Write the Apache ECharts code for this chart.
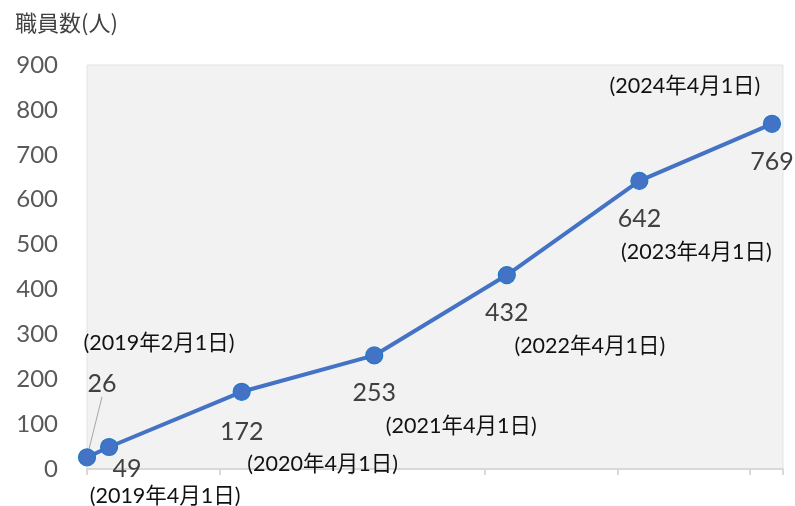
<!DOCTYPE html>
<html>
<head>
<meta charset="utf-8">
<script src="https://cdn.jsdelivr.net/npm/echarts@6/dist/echarts.min.js"></script>
<style>
html,body{margin:0;padding:0;background:#fff;}
#chart{width:795px;height:506px;}
</style>
</head>
<body>
<div id="chart"></div>
<script>
// ---- data ----
const dates = ['2019-02-01','2019-04-01','2020-04-01','2021-04-01','2022-04-01','2023-04-01','2024-04-01'];
const dateLabels = ['(2019年2月1日)','(2019年4月1日)','(2020年4月1日)','(2021年4月1日)','(2022年4月1日)','(2023年4月1日)','(2024年4月1日)'];
const staff = [26, 49, 172, 253, 432, 642, 769];
const yTicks = [0, 100, 200, 300, 400, 500, 600, 700, 800, 900];
const axisStart = '2019-02-01';
const axisEnd = '2024-05-01';
const yTitle = '職員数(人)';

// ---- styles (label placement) ----
const valueOffsets = [[15,-73],[18,22],[0,40],[0,38],[0,38],[0,38],[0,38]];
const dateOffsets = [[72,-114],[56,49],[81,72],[87,71],[83,71],[57,71],[-87,-38]];

function monthIndex(d){
  const p = d.split('-').map(Number);
  const s = axisStart.split('-').map(Number);
  return (p[0]-s[0])*12 + (p[1]-s[1]) + (p[2]-s[2])/30;
}
const xs = dates.map(monthIndex);
const xMax = monthIndex(axisEnd);

const font = 'Lato, "Noto Sans CJK JP", sans-serif';

const valueData = staff.map((v,i)=>({
  value:[xs[i], v],
  labelLine:{show: i===0}
}));
const dateData = staff.map((v,i)=>({
  value:[xs[i], v],
  label:{formatter: dateLabels[i]}
}));

const chart = echarts.init(document.getElementById('chart'), null, {renderer:'canvas'});
chart.setOption({
  animation:false,
  backgroundColor:'#ffffff',
  title:{
    text: yTitle, left: 10, top: 7,
    textStyle:{fontFamily:'"Noto Sans CJK JP", sans-serif', fontSize:22, fontWeight:'normal', color:'#404040'}
  },
  grid:{left:87, right:12, top:65, bottom:37, show:true, backgroundColor:'#F2F2F2', borderColor:'#E3E3E3', borderWidth:1},
  xAxis:{
    type:'value', min:0, max:xMax, interval:12,
    axisLabel:{show:false},
    axisLine:{show:true, lineStyle:{color:'#D9D9D9', width:2}},
    axisTick:{show:true, length:6, lineStyle:{color:'#D9D9D9', width:2}},
    splitLine:{show:false}
  },
  yAxis:{
    type:'value', min:yTicks[0], max:yTicks[yTicks.length-1], interval:yTicks[1]-yTicks[0],
    axisLabel:{fontFamily:font, fontSize:24, color:'#595959', margin:29},
    axisLine:{show:false}, axisTick:{show:false}, splitLine:{show:false}
  },
  series:[
    {
      type:'line', data:valueData, z:3,
      symbol:'circle', symbolSize:17,
      lineStyle:{color:'#4472C4', width:4},
      itemStyle:{color:'#4472C4', borderColor:'#1F7BC9', borderWidth:1.2},
      label:{show:true, position:'inside', fontFamily:font, fontSize:25, color:'#404040',
        formatter: p => p.value[1]},
      labelLine:{show:false, lineStyle:{color:'#A6A6A6', width:1}},
      labelLayout: p => ({dx: valueOffsets[p.dataIndex][0], dy: valueOffsets[p.dataIndex][1]})
    },
    {
      type:'line', data:dateData, z:4, silent:true,
      symbol:'circle', symbolSize:2, showSymbol:true,
      itemStyle:{color:'rgba(0,0,0,0)', borderWidth:0},
      lineStyle:{width:0, color:'rgba(0,0,0,0)'},
      label:{show:true, position:'inside', fontFamily:font, fontSize:21.5, color:'#111111'},
      labelLayout: p => ({dx: dateOffsets[p.dataIndex][0], dy: dateOffsets[p.dataIndex][1]})
    }
  ]
});
</script>
</body>
</html>
